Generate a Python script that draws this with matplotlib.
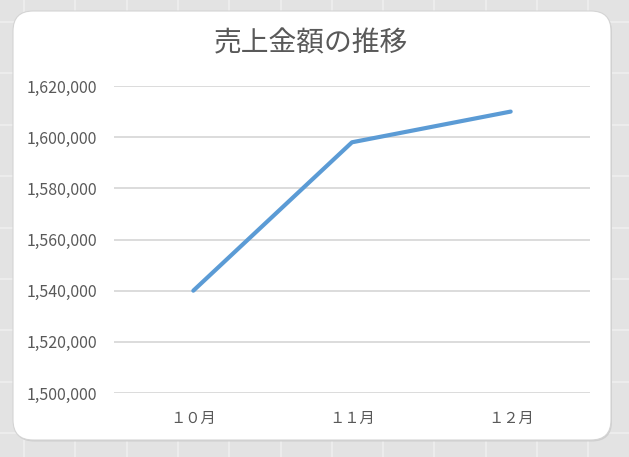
import numpy as np
import matplotlib
matplotlib.use("Agg")
import matplotlib.pyplot as plt
from matplotlib.patches import FancyBboxPatch
from matplotlib.ticker import FuncFormatter

plt.rcParams['font.family'] = ['Noto Sans CJK JP', 'DejaVu Sans']

months = ['１０月', '１１月', '１２月']
sales = [1540000, 1598000, 1610000]
y_ticks = [1500000, 1520000, 1540000, 1560000, 1580000, 1600000, 1620000]
title = '売上金額の推移'

W, H = 629, 457
fig = plt.figure(figsize=(W / 100, H / 100), dpi=100)
fig.patch.set_facecolor('#e3e3e3')

# spreadsheet cell lines behind the chart
bg = fig.add_axes([0, 0, 1, 1], zorder=-10)
bg.set_xlim(0, W)
bg.set_ylim(H, 0)
bg.axis('off')
for x in np.arange(24, W, 51.3):
    bg.axvline(x, color='#efefef', lw=1.2, zorder=1)
for y in np.arange(22, H, 51.4):
    bg.axhline(y, color='#efefef', lw=1.2, zorder=1)

# chart card with soft shadow
shadow = FancyBboxPatch((0.14, 0.155), 5.98, 4.29,
                        boxstyle='round,pad=0,rounding_size=0.2',
                        transform=fig.dpi_scale_trans, facecolor='#cfcfcf',
                        edgecolor='none', zorder=5)
card = FancyBboxPatch((0.13, 0.17), 5.98, 4.29,
                      boxstyle='round,pad=0,rounding_size=0.2',
                      transform=fig.dpi_scale_trans, facecolor='white',
                      edgecolor='#d4d4d4', lw=0.8, zorder=6)
bg.add_artist(shadow)
bg.add_artist(card)

ax = fig.add_axes([114 / W, 1 - 393 / H, 476 / W, 307 / H])
ax.patch.set_alpha(0)
x = np.arange(len(months))
ax.plot(x, sales, color='#5b9bd5', lw=3, solid_capstyle='round',
        solid_joinstyle='round', zorder=3)

ax.set_xlim(-0.5, len(months) - 0.5)
ax.set_ylim(y_ticks[0], y_ticks[-1])
ax.set_yticks(y_ticks)
ax.yaxis.set_major_formatter(FuncFormatter(lambda v, p: f'{int(v):,}'))
ax.set_xticks(x)
ax.set_xticklabels(months, fontsize=11, color='#595959')
ax.grid(axis='y', color='#d9d9d9', lw=1.3)
ax.set_axisbelow(True)
for s in ax.spines.values():
    s.set_visible(False)
ax.tick_params(length=0, colors='#595959')
ax.tick_params(axis='y', pad=12, labelsize=11.5)
ax.tick_params(axis='x', pad=12)

fig.text(311 / W, 1 - 43 / H, title, ha='center', va='center',
         fontsize=20, color='#595959')

fig.savefig('out.png', dpi=100, facecolor=fig.get_facecolor())
